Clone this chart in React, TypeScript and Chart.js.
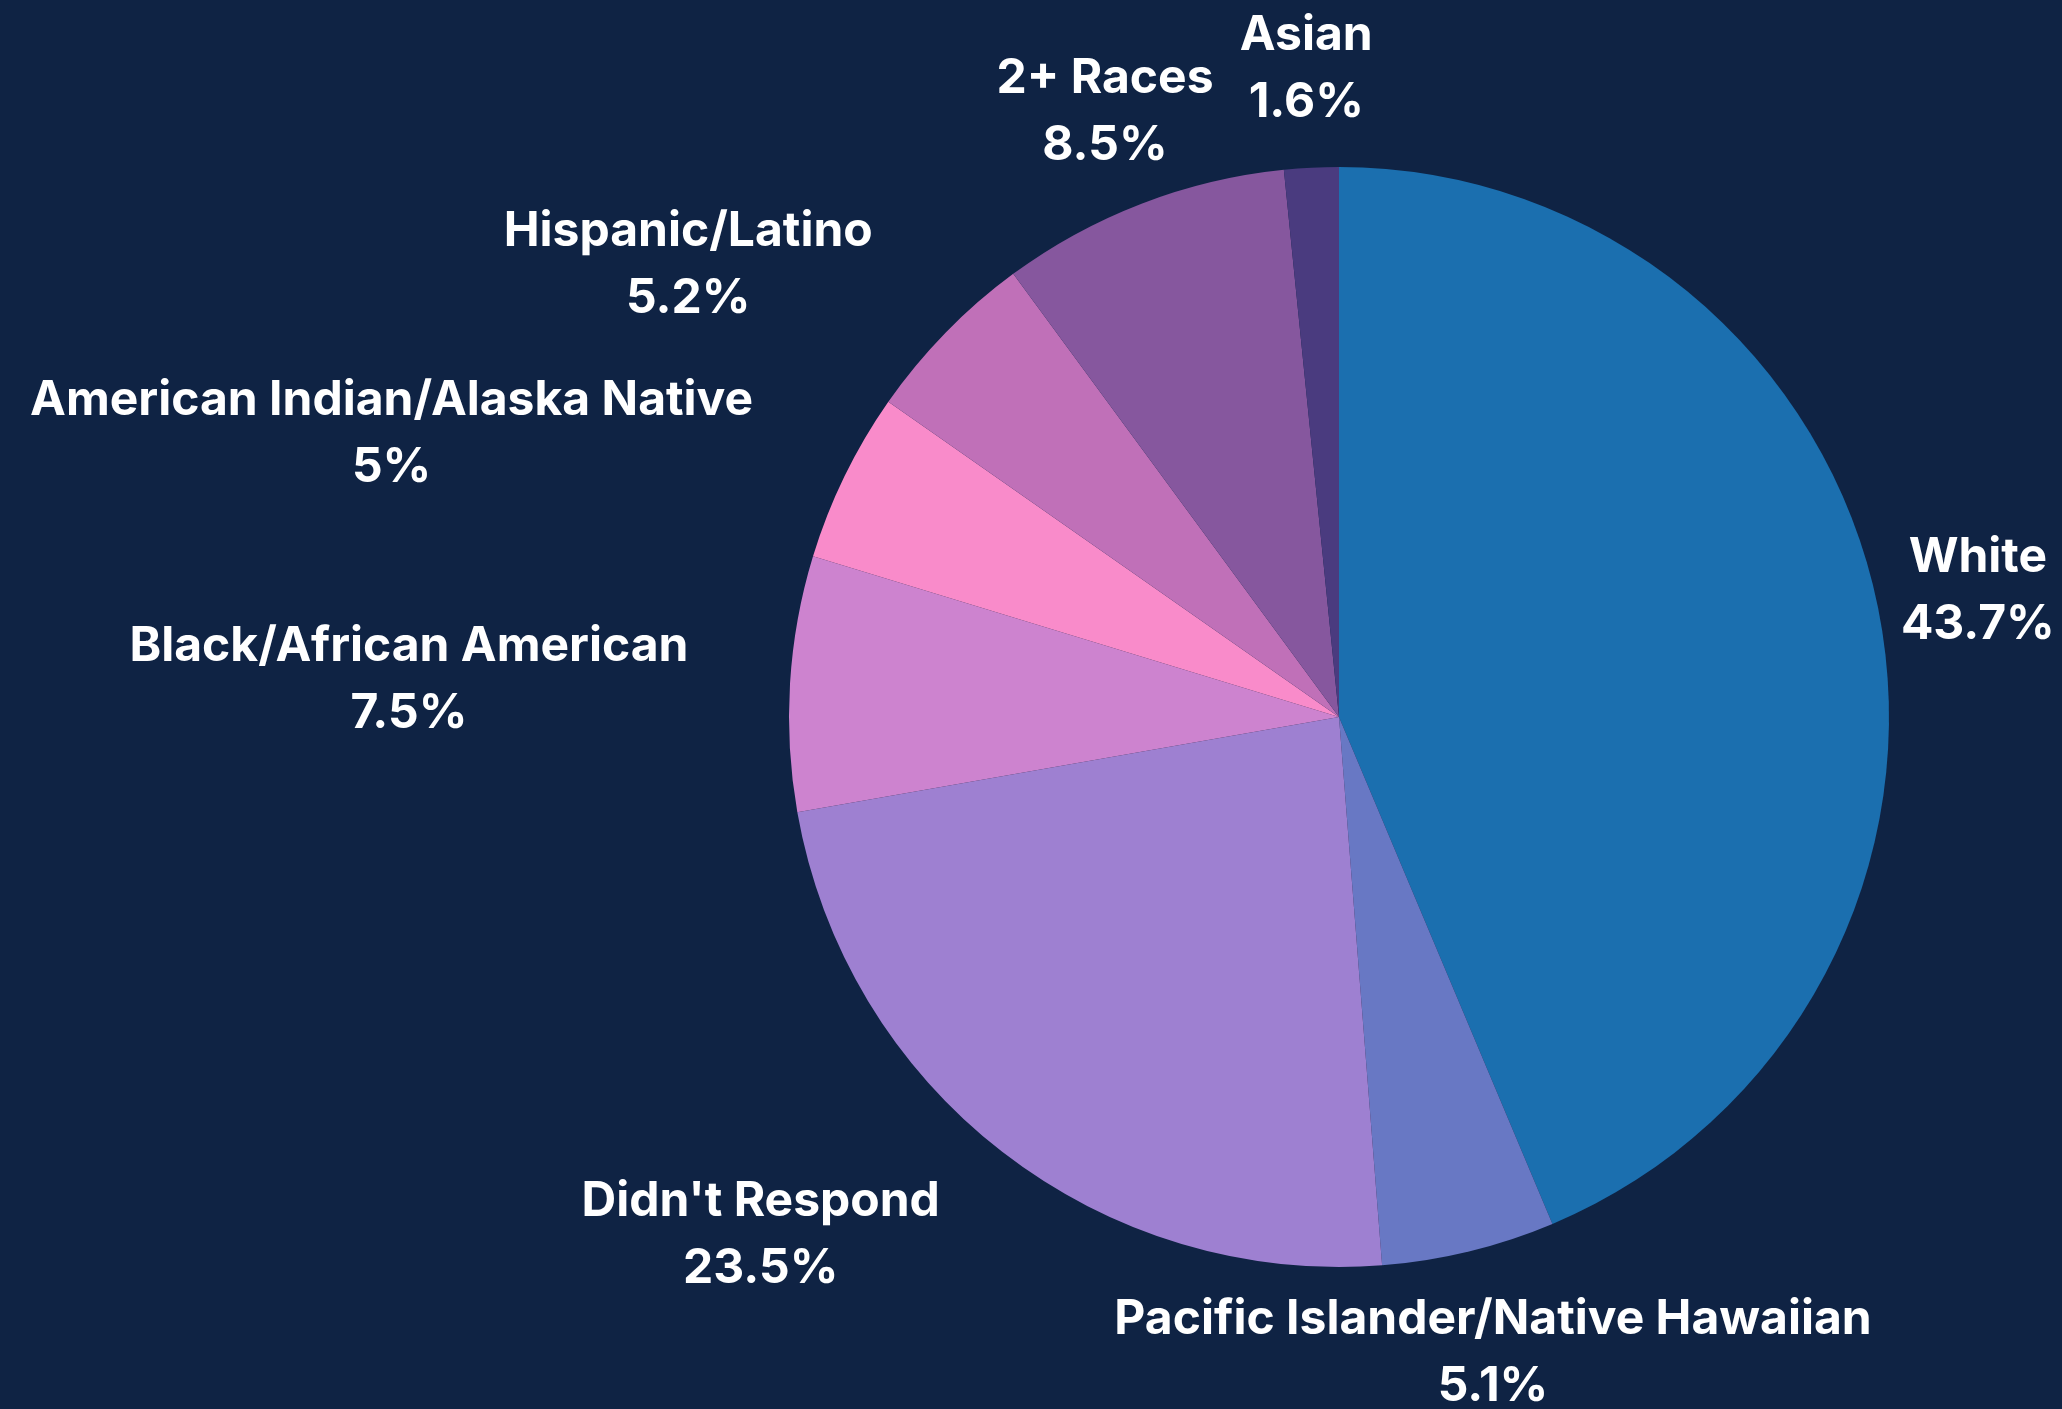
import React, { useEffect, useRef } from "react";
import { Chart, registerables } from "chart.js";

Chart.register(...registerables);

const categories = [
  "White",
  "Pacific Islander/Native Hawaiian",
  "Didn't Respond",
  "Black/African American",
  "American Indian/Alaska Native",
  "Hispanic/Latino",
  "2+ Races",
  "Asian",
];
const values = [43.7, 5.1, 23.5, 7.5, 5, 5.2, 8.5, 1.6];
const colors = [
  "#1b6faf",
  "#6878c4",
  "#9e80d1",
  "#cd83cf",
  "#f98bca",
  "#c070b8",
  "#86579e",
  "#4a3b7f",
];

const BG = "#0f2344";
const W = 2062;
const H = 1409;

const labelPlugin = {
  id: "outsideLabels",
  afterDatasetsDraw(chart: any) {
    const ctx = chart.ctx as CanvasRenderingContext2D;
    const meta = chart.getDatasetMeta(0);
    ctx.save();
    ctx.fillStyle = "#ffffff";
    ctx.font = "700 48px Inter, 'Noto Sans', sans-serif";
    ctx.textBaseline = "middle";
    const lineH = 67;
    meta.data.forEach((arc: any, i: number) => {
      const { x, y, startAngle, endAngle, outerRadius } = arc.getProps(
        ["x", "y", "startAngle", "endAngle", "outerRadius"],
        true
      );
      const mid = (startAngle + endAngle) / 2;
      const r = outerRadius * 1.185;
      const ax = x + Math.cos(mid) * r;
      const ay = y + Math.sin(mid) * r + 3;
      const name = categories[i];
      const pct = `${values[i]}%`;
      let cx = ax;
      if (Math.cos(mid) < -0.5) {
        const w = Math.max(ctx.measureText(name).width, ctx.measureText(pct).width);
        cx = ax - w / 2;
      }
      ctx.textAlign = "center";
      ctx.fillText(name, cx, ay - lineH / 2);
      ctx.fillText(pct, cx, ay + lineH / 2);
    });
    ctx.restore();
  },
};

export default function App() {
  const ref = useRef<HTMLCanvasElement | null>(null);
  useEffect(() => {
    document.body.style.margin = "0";
    document.body.style.background = BG;
    const canvas = ref.current;
    if (!canvas) return;
    const chart = new Chart(canvas, {
      type: "pie",
      data: {
        labels: categories,
        datasets: [
          {
            data: values,
            backgroundColor: colors,
            borderWidth: 0,
          },
        ],
      },
      options: {
        responsive: false,
        animation: false,
        layout: { padding: { left: 789, right: 173, top: 167, bottom: 142 } },
        plugins: {
          legend: { display: false },
          tooltip: { enabled: false },
        },
      },
      plugins: [labelPlugin],
    });
    return () => chart.destroy();
  }, []);
  return (
    <div style={{ width: W, height: H, background: BG }}>
      <canvas ref={ref} width={W} height={H} style={{ display: "block" }} />
    </div>
  );
}
